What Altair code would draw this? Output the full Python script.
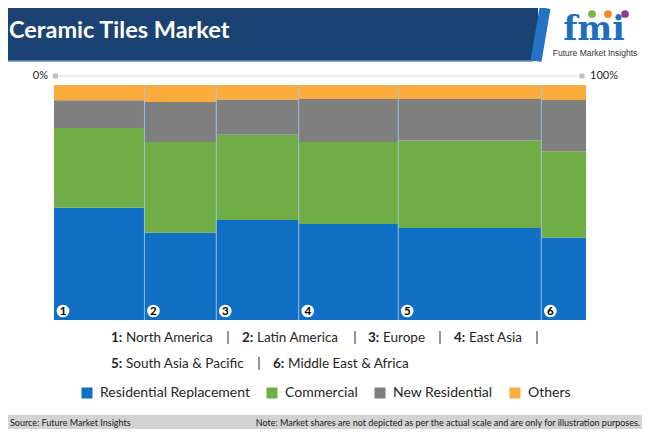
import altair as alt
import pandas as pd

# ---------------- data ----------------
regions = ["North America", "Latin America", "Europe", "East Asia",
           "South Asia & Pacific", "Middle East & Africa"]
region_ids = ["1", "2", "3", "4", "5", "6"]
region_share = [17.0, 13.5, 15.5, 18.7, 26.9, 8.4]          # column widths (%)
segments = ["Residential Replacement", "Commercial", "New Residential", "Others"]
residential_replacement = [47.8, 37.1, 42.6, 40.9, 39.2, 35.1]
commercial = [33.9, 38.6, 36.2, 34.8, 37.2, 36.7]
new_residential = [11.8, 17.1, 15.0, 18.3, 17.6, 21.8]
others = [6.5, 7.2, 6.2, 6.0, 6.0, 6.4]
seg_colors = ["#1170C6", "#70AD47", "#7F7F7F", "#FAAD3E"]

series = [residential_replacement, commercial, new_residential, others]
rows = []
x_start = 0.0
for i, reg in enumerate(regions):
    y_start = 0.0
    for s, seg in enumerate(segments):
        v = series[s][i]
        rows.append({"region": reg, "rid": region_ids[i], "segment": seg,
                     "order": s, "x0": x_start, "x1": x_start + region_share[i],
                     "y0": y_start, "y1": y_start + v})
        y_start += v
    x_start += region_share[i]
bars = pd.DataFrame(rows)
cols = bars[bars["order"] == 0][["region", "rid", "x0", "x1"]].reset_index(drop=True)
seps = cols.iloc[1:]

# ---------------- layout helpers (page px -> plot px) ----------------
W, H = 532, 235
OX, OY = 54, 85
def px(v):
    return v - OX
def py(v):
    return v - OY

one = pd.DataFrame({"a": [0]})
FONT = "Lato"

xs = alt.Scale(domain=[0, 100], nice=False, zero=False)
ys = alt.Scale(domain=[0, 100], nice=False, zero=False)

def box(x1, x2, y1, y2, color):
    return alt.Chart(one).mark_rect(color=color).encode(
        x=alt.value(px(x1)), x2=alt.value(px(x2)),
        y=alt.value(py(y1)), y2=alt.value(py(y2)))

def label(txt, x, y, size=13.5, weight="normal", color="#262626", align="left", font=FONT):
    return alt.Chart(one).mark_text(
        text=txt, align=align, baseline="middle", fontSize=size,
        fontWeight=weight, color=color, font=font).encode(
        x=alt.value(px(x)), y=alt.value(py(y)))

layers = []
# header
layers.append(box(8, 538, 8, 61, "#1A4272"))
layers.append(alt.Chart(one).mark_rule(color="#2473C4", strokeWidth=11).encode(
    x=alt.value(px(536)), x2=alt.value(px(545)),
    y=alt.value(py(61)), y2=alt.value(py(8))))
layers.append(alt.Chart(one).mark_rule(color="#5C8FC9", strokeWidth=1.5).encode(
    x=alt.value(px(8)), x2=alt.value(px(533)),
    y=alt.value(py(61)), y2=alt.value(py(61))))
layers.append(alt.Chart(one).mark_text(
    text="Ceramic Tiles Market", align="left", baseline="alphabetic",
    fontSize=23.5, fontWeight="bold", color="white", font=FONT).encode(
    x=alt.value(px(9)), y=alt.value(py(38))))
# logo
layers.append(alt.Chart(one).mark_text(
    text="fmi", align="center", baseline="alphabetic", fontSize=33,
    fontWeight="bold", color="#1B6FBC", font="DejaVu Serif").encode(
    x=alt.value(px(594)), y=alt.value(py(40))))
for cx, col in [(592, "#7AB648"), (608, "#F08A24"), (625, "#8E3D8E")]:
    layers.append(alt.Chart(one).mark_point(
        filled=True, shape="circle", size=60, color=col, opacity=1).encode(
        x=alt.value(px(cx)), y=alt.value(py(14))))
layers.append(label("Future Market Insights", 595, 53, size=8.5, color="#333333",
                    align="center", font="Liberation Sans"))

# top 0% - 100% scale
layers.append(alt.Chart(one).mark_rule(color="#D9D9D9", strokeWidth=1).encode(
    x=alt.value(px(56)), x2=alt.value(px(582)),
    y=alt.value(py(76)), y2=alt.value(py(76))))
for cx in [55.5, 582]:
    layers.append(alt.Chart(one).mark_point(
        filled=True, shape="square", size=25, color="#BFBFBF", opacity=1).encode(
        x=alt.value(px(cx)), y=alt.value(py(76))))
layers.append(label("0%", 48, 76, size=11, align="right"))
layers.append(label("100%", 590, 76, size=11, align="left"))

# marimekko bars
layers.append(alt.Chart(bars).mark_rect().encode(
    x=alt.X("x0:Q", scale=xs, axis=None),
    x2="x1:Q",
    y=alt.Y("y0:Q", scale=ys, axis=None),
    y2="y1:Q",
    color=alt.Color("segment:N",
                    scale=alt.Scale(domain=segments, range=seg_colors),
                    sort=segments,
                    legend=alt.Legend(
                        title=None, orient="none", direction="horizontal",
                        legendX=px(80), legendY=py(386), padding=0,
                        symbolType="square", symbolSize=121,
                        symbolStrokeWidth=0, labelFontSize=14,
                        labelFont=FONT, labelColor="#262626",
                        labelOffset=6, columnPadding=15)),
    order=alt.Order("order:Q")))
# column separators
layers.append(alt.Chart(seps).mark_rule(color="#9DC3E6", strokeWidth=1, opacity=0.8).encode(
    x=alt.X("x0:Q", scale=xs), y=alt.value(0), y2=alt.value(H)))
# circled numbers
layers.append(alt.Chart(cols).mark_point(
    filled=True, shape="circle", size=160, color="white", opacity=1, xOffset=9).encode(
    x=alt.X("x0:Q", scale=xs), y=alt.value(226)))
layers.append(alt.Chart(cols).mark_text(
    fontSize=11.5, fontWeight="bold", color="black", font=FONT, dx=9,
    align="center", baseline="middle").encode(
    x=alt.X("x0:Q", scale=xs), y=alt.value(226.5), text="rid:N"))

# region key text
key_pos = [(111, 338), (242, 338), (368, 338), (454, 338), (111, 364), (273, 364)]
for i, (kx, ky) in enumerate(key_pos):
    layers.append(label(region_ids[i] + ":", kx, ky, weight="bold"))
    layers.append(label(regions[i], kx + 15, ky))
for sx, sy in [(228, 338), (355, 338), (440, 338), (537, 338), (259, 364)]:
    layers.append(label("|", sx, sy, align="center"))

# footer
layers.append(box(8, 642, 415, 429, "#D3D3D3"))
layers.append(label("Source: Future Market Insights", 10, 423, size=9, color="#1a1a1a"))
layers.append(label("Note: Market shares are not depicted as per the actual scale and are only for illustration purposes.",
                    640, 423, size=9, color="#1a1a1a", align="right"))

chart = alt.layer(*layers).properties(
    width=W, height=H,
    padding={"left": 46, "top": 77, "right": 56, "bottom": 109},
    autosize="none",
).configure_view(stroke=None)

chart.save("out.html", embed_options={"renderer": "svg", "actions": False})
